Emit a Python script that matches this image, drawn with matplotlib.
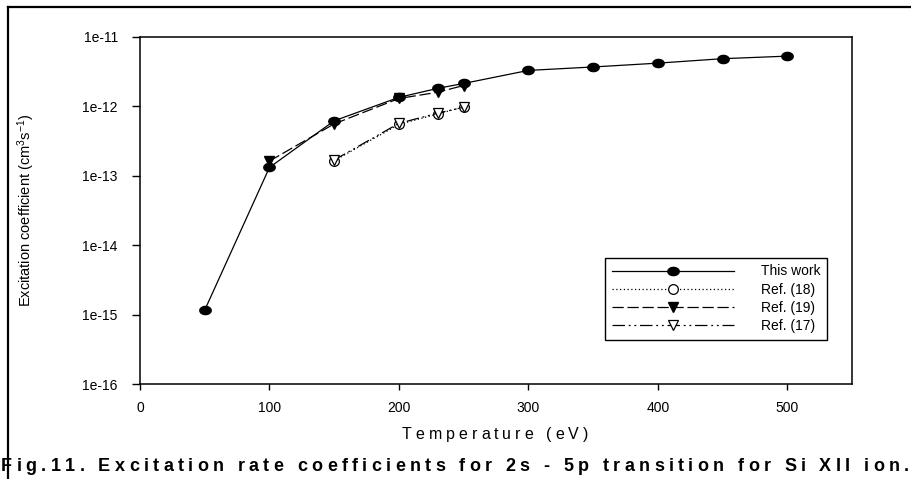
import numpy as np
import matplotlib
matplotlib.use("Agg")
import matplotlib.pyplot as plt
from matplotlib.path import Path
from matplotlib.lines import Line2D

plt.rcParams['font.family'] = ['Liberation Sans', 'DejaVu Sans']
plt.rcParams['mathtext.default'] = 'regular'

# data
temp_this = [50, 100, 150, 200, 230, 250, 300, 350, 400, 450, 500]
rate_this = [1.16e-15, 1.32e-13, 6.2e-13, 1.35e-12, 1.82e-12, 2.14e-12,
             3.3e-12, 3.7e-12, 4.2e-12, 4.87e-12, 5.3e-12]
temp_ref18 = [150, 200, 230, 250]
rate_ref18 = [1.65e-13, 5.5e-13, 7.8e-13, 9.8e-13]
temp_ref19 = [100, 150, 200, 230, 250]
rate_ref19 = [1.63e-13, 5.6e-13, 1.3e-12, 1.6e-12, 2.0e-12]
temp_ref17 = [150, 200, 230, 250]
rate_ref17 = [1.69e-13, 5.7e-13, 8.0e-13, 9.7e-13]

yticks = [1e-16, 1e-15, 1e-14, 1e-13, 1e-12, 1e-11]
ytick_labels = ['1e-16', '1e-15', '1e-14', '1e-13', '1e-12', '1e-11']
xticks = [0, 100, 200, 300, 400, 500]

W, H, DPI = 911, 479, 100
fig = plt.figure(figsize=(W / DPI, H / DPI), dpi=DPI)
ax = fig.add_axes([140 / W, 1 - 384 / H, 712 / W, 347 / H])

# slightly flattened dot like the original
th = np.linspace(0, 2 * np.pi, 60)
ellipse = Path(np.column_stack([np.cos(th), 0.72 * np.sin(th)]))

ax.plot(temp_ref18, rate_ref18, color='black', lw=0.9, ls=(0, (1, 2)),
        marker='o', ms=7, mfc='white', mec='black', mew=0.9, label='Ref. (18)', zorder=2)
ax.plot(temp_ref17, rate_ref17, color='black', lw=0.9, ls=(0, (10, 3, 1.5, 3, 1.5, 3)),
        marker='v', ms=7.5, mfc='white', mec='black', mew=0.9, label='Ref. (17)', zorder=3)
ax.plot(temp_ref19, rate_ref19, color='black', lw=0.9, ls=(0, (9, 3)),
        marker='v', ms=7.5, mfc='black', mec='black', label='Ref. (19)', zorder=4)
ax.plot(temp_this, rate_this, color='black', lw=0.9, ls='-',
        marker=ellipse, ms=8.2, mfc='black', mec='black', label='This work', zorder=5)

ax.set_yscale('log')
ax.set_xlim(0, 550)
ax.set_ylim(1e-16, 1e-11)
ax.set_yticks(yticks)
ax.set_yticklabels(ytick_labels)
ax.yaxis.set_minor_locator(matplotlib.ticker.NullLocator())
ax.set_xticks(xticks)
ax.tick_params(axis='y', direction='out', length=6, width=1, pad=10, labelsize=10)
ax.tick_params(axis='x', direction='out', length=4, width=1, pad=8, labelsize=10)
for sp in ax.spines.values():
    sp.set_linewidth(1.1)

ax.set_ylabel('Excitation coefficient (cm$^3$s$^{-1}$)', fontsize=10.5)
ax.yaxis.set_label_coords((37 - 140) / 712, 0.5)

# legend in the order of the original
hs, ls = ax.get_legend_handles_labels()
order = ['This work', 'Ref. (18)', 'Ref. (19)', 'Ref. (17)']
hmap = dict(zip(ls, hs))
leg = ax.legend([hmap[k] for k in order], order, loc='lower right',
                bbox_to_anchor=(0.975, 0.107), fontsize=10, handlelength=8.8,
                handletextpad=1.9, labelspacing=0.3, borderpad=0.5,
                fancybox=False, framealpha=1, edgecolor='black')
leg.get_frame().set_linewidth(1.0)


def spaced_text(x0, base, s, width, size, weight='normal', center=False):
    # letter-spaced text, positions in pixels from top-left
    r = fig.canvas.get_renderer()
    widths = []
    for ch in s:
        if ch == ' ':
            widths.append(size * 0.278 * DPI / 72)
        else:
            t = fig.text(0, 0, ch, fontsize=size, weight=weight)
            widths.append(t.get_window_extent(r).width)
            t.remove()
    track = (width - sum(widths)) / (len(s) - 1)
    x = x0 - width / 2 if center else x0
    for ch, w in zip(s, widths):
        if ch != ' ':
            fig.text(x / W, 1 - base / H, ch, fontsize=size, weight=weight,
                     ha='left', va='baseline')
        x += w + track


spaced_text(495, 439, 'Temperature (eV)', 186, 11.5, center=True)
spaced_text(1, 471, 'Fig.11. Excitation rate coefficients for 2s - 5p transition for Si XII ion.',
            908, 13, weight='bold')

# page frame lines (top and left)
fig.add_artist(Line2D([8 / W, 1], [1 - 7 / H, 1 - 7 / H], color='black', lw=1.6))
fig.add_artist(Line2D([8 / W, 8 / W], [0, 1 - 7 / H], color='black', lw=1.6))

fig.savefig('out.png', dpi=DPI)
